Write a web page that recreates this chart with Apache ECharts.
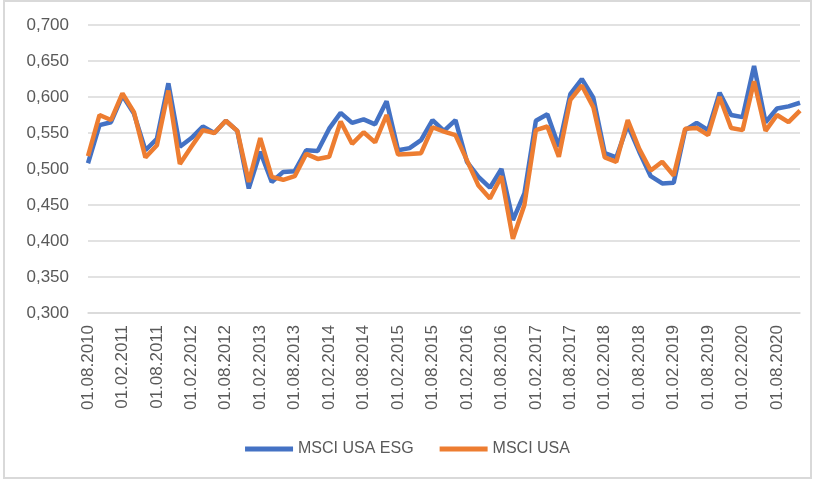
<!DOCTYPE html>
<html>
<head>
<meta charset="utf-8">
<script src="https://cdn.jsdelivr.net/npm/echarts@6/dist/echarts.min.js"></script>
<style>
    html, body { margin: 0; padding: 0; background: #fff; }
    #chart { position: absolute; left: 0; top: 0; width: 815px; height: 482px; }
    #frame { position: absolute; left: 3px; top: 0; width: 809px; height: 479px; border: 2px solid #d9d9d9; box-sizing: border-box; pointer-events: none; }
</style>
</head>
<body>
<div id="chart"></div>
<div id="frame"></div>
<script>
    // bimonthly observations, 01.08.2010 .. 01.12.2020
    var dates = [
        '01.08.2010', '01.10.2010', '01.12.2010',
        '01.02.2011', '01.04.2011', '01.06.2011', '01.08.2011', '01.10.2011', '01.12.2011',
        '01.02.2012', '01.04.2012', '01.06.2012', '01.08.2012', '01.10.2012', '01.12.2012',
        '01.02.2013', '01.04.2013', '01.06.2013', '01.08.2013', '01.10.2013', '01.12.2013',
        '01.02.2014', '01.04.2014', '01.06.2014', '01.08.2014', '01.10.2014', '01.12.2014',
        '01.02.2015', '01.04.2015', '01.06.2015', '01.08.2015', '01.10.2015', '01.12.2015',
        '01.02.2016', '01.04.2016', '01.06.2016', '01.08.2016', '01.10.2016', '01.12.2016',
        '01.02.2017', '01.04.2017', '01.06.2017', '01.08.2017', '01.10.2017', '01.12.2017',
        '01.02.2018', '01.04.2018', '01.06.2018', '01.08.2018', '01.10.2018', '01.12.2018',
        '01.02.2019', '01.04.2019', '01.06.2019', '01.08.2019', '01.10.2019', '01.12.2019',
        '01.02.2020', '01.04.2020', '01.06.2020', '01.08.2020', '01.10.2020', '01.12.2020'
    ];

    var msciUsaEsg = [
        0.508, 0.561, 0.565, 0.602, 0.577, 0.526, 0.542, 0.619, 0.531, 0.543,
        0.559, 0.550, 0.567, 0.553, 0.473, 0.524, 0.482, 0.496, 0.497, 0.526,
        0.525, 0.556, 0.578, 0.564, 0.569, 0.562, 0.594, 0.526, 0.529, 0.540,
        0.568, 0.553, 0.568, 0.510, 0.489, 0.474, 0.500, 0.429, 0.466, 0.567,
        0.576, 0.531, 0.604, 0.625, 0.599, 0.522, 0.516, 0.561, 0.524, 0.490,
        0.480, 0.481, 0.554, 0.564, 0.554, 0.606, 0.575, 0.572, 0.643, 0.565,
        0.584, 0.587, 0.592
    ];

    var msciUsa = [
        0.518, 0.575, 0.568, 0.605, 0.579, 0.516, 0.533, 0.609, 0.507, 0.531,
        0.554, 0.550, 0.567, 0.553, 0.482, 0.543, 0.489, 0.485, 0.490, 0.521,
        0.514, 0.517, 0.566, 0.535, 0.551, 0.537, 0.575, 0.520, 0.521, 0.522,
        0.558, 0.552, 0.547, 0.512, 0.477, 0.459, 0.490, 0.403, 0.450, 0.554,
        0.559, 0.517, 0.596, 0.616, 0.586, 0.516, 0.510, 0.568, 0.528, 0.498,
        0.510, 0.491, 0.556, 0.557, 0.547, 0.600, 0.557, 0.554, 0.622, 0.553,
        0.575, 0.565, 0.581
    ];

    var seriesNames = ['MSCI USA ESG', 'MSCI USA'];
    var seriesColors = ['#4472C4', '#ED7D31'];

    var textColor = '#595959';
    var fontName = '"Liberation Sans", Arial, sans-serif';

    var myChart = echarts.init(document.getElementById('chart'));
    myChart.setOption({
        animation: false,
        color: seriesColors,
        grid: {
            left: 88,
            right: 15,
            top: 25,
            bottom: 169
        },
        legend: {
            data: seriesNames,
            bottom: 20,
            left: 'center',
            icon: 'rect',
            itemWidth: 48,
            itemHeight: 5,
            itemGap: 26,
            textStyle: { color: textColor, fontSize: 16, fontFamily: fontName }
        },
        xAxis: {
            type: 'category',
            data: dates,
            boundaryGap: false,
            axisLine: { lineStyle: { color: '#d9d9d9', width: 1.5 } },
            axisTick: { show: false },
            axisLabel: {
                interval: 2,
                rotate: 90,
                margin: 12,
                color: textColor,
                fontSize: 17,
                fontFamily: fontName
            }
        },
        yAxis: {
            type: 'value',
            min: 0.3,
            max: 0.7,
            interval: 0.05,
            axisLine: { show: false },
            axisTick: { show: false },
            splitLine: { lineStyle: { color: '#d9d9d9', width: 1.5 } },
            axisLabel: {
                margin: 19,
                color: textColor,
                fontSize: 17,
                fontFamily: fontName,
                formatter: function (v) { return v.toFixed(3).replace('.', ','); }
            }
        },
        series: [
            {
                name: seriesNames[0],
                type: 'line',
                data: msciUsaEsg,
                showSymbol: false,
                lineStyle: { width: 4.5, color: seriesColors[0] }
            },
            {
                name: seriesNames[1],
                type: 'line',
                data: msciUsa,
                showSymbol: false,
                lineStyle: { width: 4.5, color: seriesColors[1] }
            }
        ]
    });
</script>
</body>
</html>
